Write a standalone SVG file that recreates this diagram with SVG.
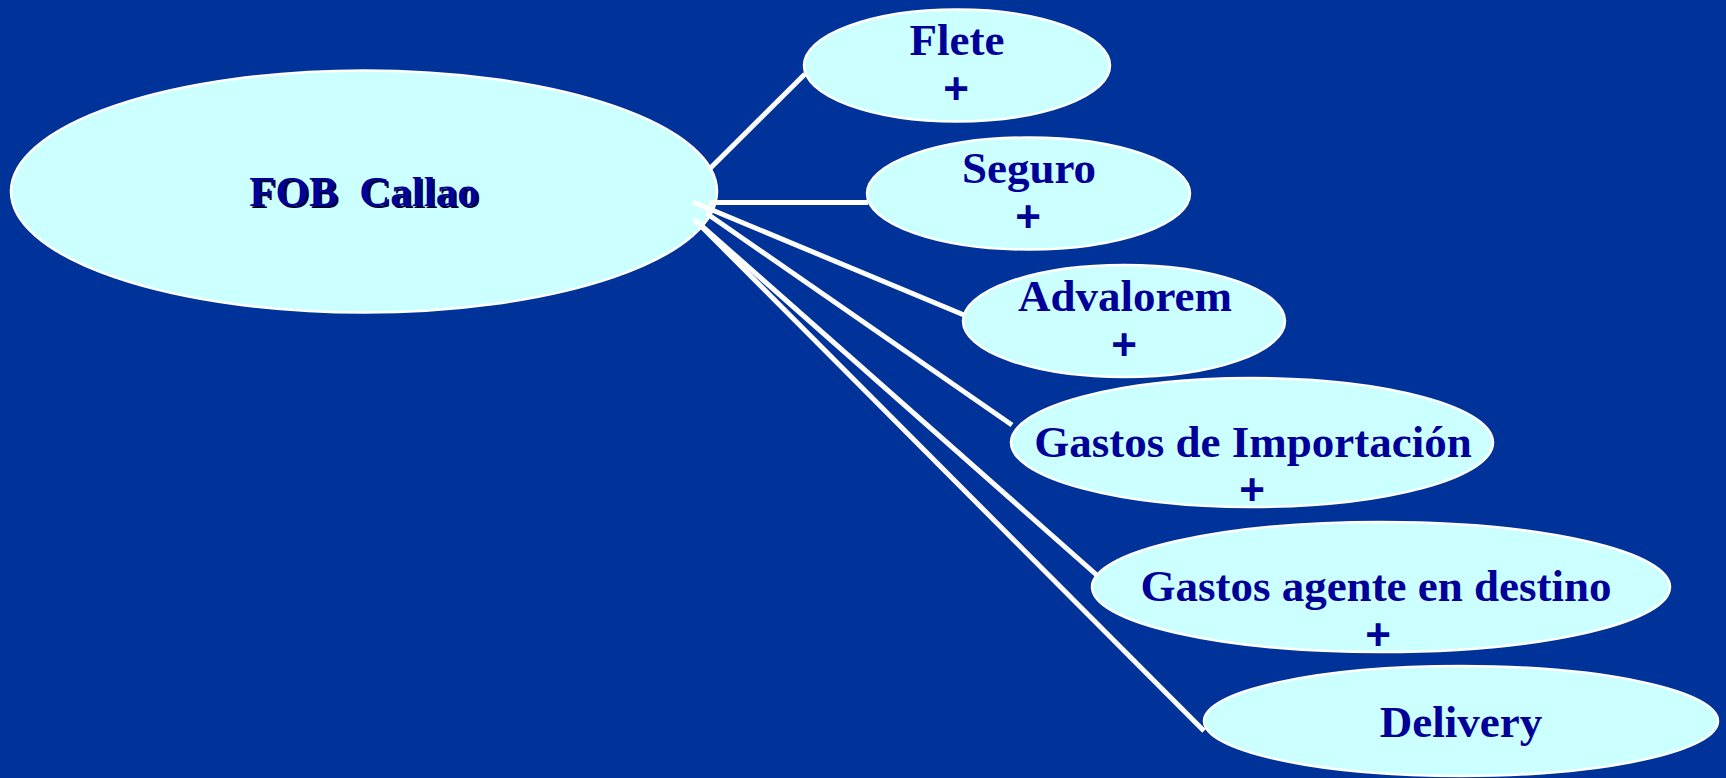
<svg xmlns="http://www.w3.org/2000/svg" width="1726" height="778" viewBox="0 0 1726 778">
  <style>
    .node { fill: #CCFFFF; stroke: #FFFFFF; stroke-width: 2.5; }
    .lbl { font-family: "Liberation Serif", "Times New Roman", serif; font-weight: bold; font-size: 45px; fill: #000099; text-anchor: middle; }
    .plus { font-family: "Liberation Sans", Arial, sans-serif; font-weight: bold; font-size: 44px; fill: #000099; text-anchor: middle; }
    .main { font-family: "Liberation Serif", "Times New Roman", serif; font-weight: bold; font-size: 43px; text-anchor: middle; white-space: pre; }
    .conn line { stroke: #FFFFFF; stroke-width: 5; }
  </style>
  <rect x="0" y="0" width="1726" height="778" fill="#003399"/>

  <g id="fob">
    <ellipse class="node" cx="364" cy="191.5" rx="353" ry="121"/>
    <text class="main" x="366" y="208" fill="#000033" xml:space="preserve">FOB  Callao</text>
    <text class="main" x="364" y="206" fill="#000099" xml:space="preserve">FOB  Callao</text>
  </g>

  <g id="connectors" class="conn">
    <line x1="710" y1="168.5" x2="805" y2="74"/>
    <line x1="709" y1="202.5" x2="868" y2="202.5"/>
    <line x1="693" y1="202" x2="964" y2="315"/>
    <line x1="706" y1="213" x2="1012" y2="425"/>
    <line x1="694" y1="219" x2="1108" y2="585"/>
    <line x1="694" y1="219" x2="1204" y2="731"/>
  </g>

  <g id="flete">
    <ellipse class="node" cx="957" cy="65.5" rx="153" ry="56"/>
    <text class="lbl" x="957" y="55">Flete</text>
    <text class="plus" x="956" y="104">+</text>
  </g>
  <g id="seguro">
    <ellipse class="node" cx="1028.5" cy="193.5" rx="161.5" ry="56"/>
    <text class="lbl" x="1029" y="183">Seguro</text>
    <text class="plus" x="1028" y="232">+</text>
  </g>
  <g id="advalorem">
    <ellipse class="node" cx="1124" cy="321" rx="161" ry="56"/>
    <text class="lbl" x="1125" y="311">Advalorem</text>
    <text class="plus" x="1124" y="360">+</text>
  </g>
  <g id="importacion">
    <ellipse class="node" cx="1252" cy="442.5" rx="241" ry="64.5"/>
    <text class="lbl" x="1253" y="457">Gastos de Importación</text>
    <text class="plus" x="1252" y="505">+</text>
  </g>
  <g id="agente">
    <ellipse class="node" cx="1381" cy="587" rx="289" ry="65"/>
    <text class="lbl" x="1376" y="601">Gastos agente en destino</text>
    <text class="plus" x="1378" y="650">+</text>
  </g>
  <g id="delivery">
    <ellipse class="node" cx="1461" cy="721" rx="257" ry="55"/>
    <text class="lbl" x="1461" y="737">Delivery</text>
  </g>
</svg>
